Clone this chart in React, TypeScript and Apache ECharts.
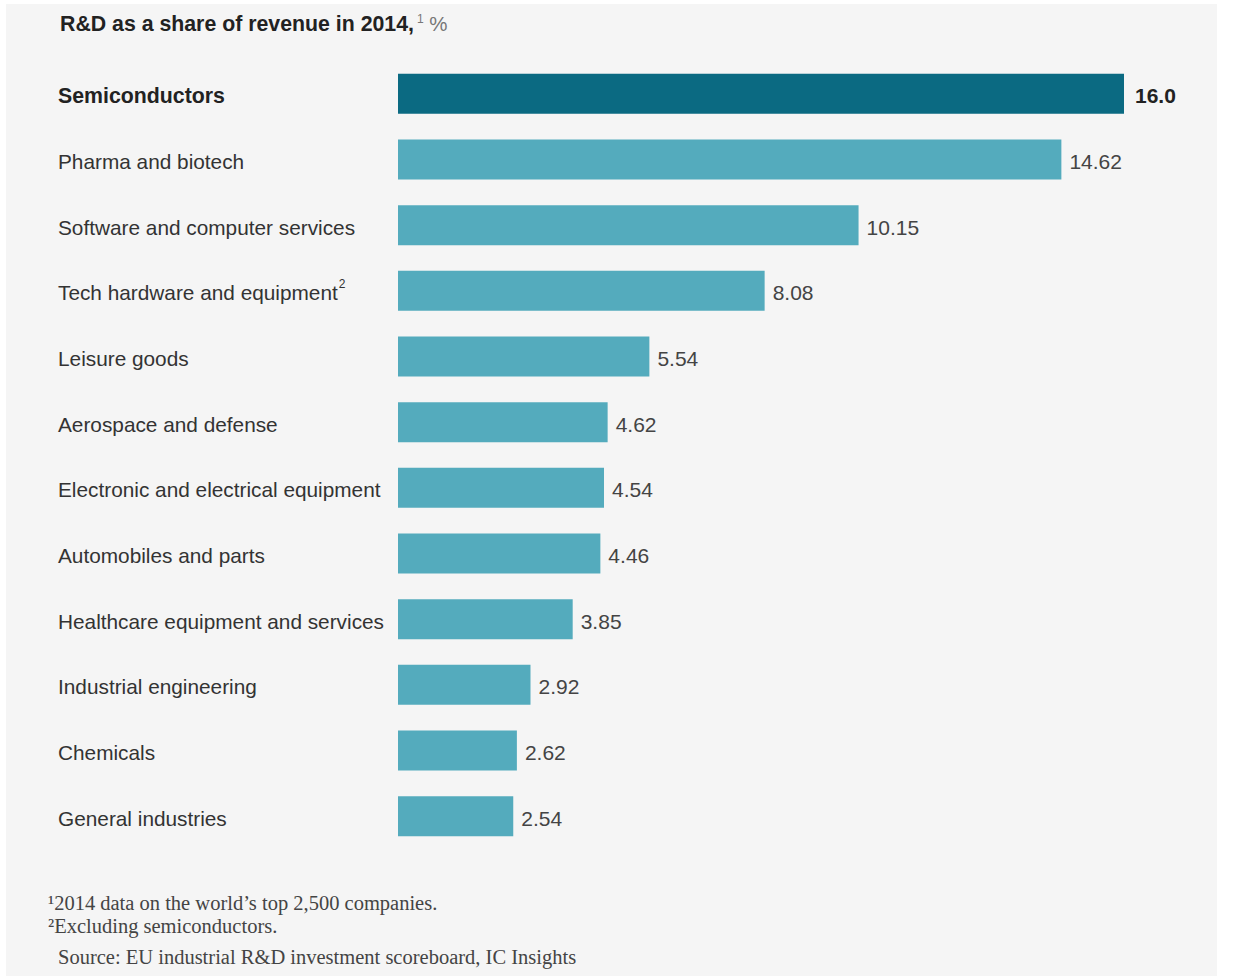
import React, { useEffect, useRef } from "react";
import * as echarts from "echarts";

const categories = [
  "Semiconductors",
  "Pharma and biotech",
  "Software and computer services",
  "Tech hardware and equipment",
  "Leisure goods",
  "Aerospace and defense",
  "Electronic and electrical equipment",
  "Automobiles and parts",
  "Healthcare equipment and services",
  "Industrial engineering",
  "Chemicals",
  "General industries",
];
const values = [16.0, 14.62, 10.15, 8.08, 5.54, 4.62, 4.54, 4.46, 3.85, 2.92, 2.62, 2.54];
const footnotes = [
  "\u00B92014 data on the world\u2019s top 2,500 companies.",
  "\u00B2Excluding semiconductors.",
];
const source = "Source: EU industrial R&D investment scoreboard, IC Insights";

const SANS = "'Liberation Sans', Arial, Helvetica, sans-serif";
const SERIF = "'Liberation Serif', 'DejaVu Serif', Georgia, serif";

export default function App() {
  const ref = useRef<HTMLDivElement>(null);
  useEffect(() => {
    if (!ref.current) return;
    const chart = echarts.init(ref.current, null, { renderer: "svg" });
    chart.setOption({
      animation: false,
      backgroundColor: "#ffffff",
      graphic: [
        { type: "rect", z: -10, shape: { x: 6, y: 4, width: 1211, height: 972 }, style: { fill: "#f5f5f5" } },
        {
          type: "text",
          left: 60,
          top: 13,
          style: {
            text: "{b|R&D as a share of revenue in 2014,}{s|1}{p| %}",
            rich: {
              b: { fontFamily: SANS, fontSize: 21.3, fontWeight: "bold", fill: "#222222" },
              s: { fontFamily: SANS, fontSize: 12, fill: "#777777", verticalAlign: "top", padding: [0, 0, 8, 3] },
              p: { fontFamily: SANS, fontSize: 20.5, fill: "#777777" },
            },
          },
        },
        {
          type: "text",
          left: 48,
          top: 892,
          style: { text: footnotes[0], fontFamily: SERIF, fontSize: 20.5, fill: "#444444" },
        },
        {
          type: "text",
          left: 48,
          top: 915,
          style: { text: footnotes[1], fontFamily: SERIF, fontSize: 20.5, fill: "#444444" },
        },
        {
          type: "text",
          left: 58,
          top: 946,
          style: { text: source, fontFamily: SERIF, fontSize: 20.5, fill: "#444444" },
        },
      ],
      grid: { left: 398, right: 109, top: 61, bottom: 127, containLabel: false },
      xAxis: { type: "value", min: 0, max: 16, show: false },
      yAxis: {
        type: "category",
        data: categories,
        inverse: true,
        axisLine: { show: false },
        axisTick: { show: false },
        splitLine: { show: false },
        axisLabel: {
          align: "left",
          margin: 340,
          fontFamily: SANS,
          fontSize: 20.8,
          color: "#333333",
          formatter: (v: string, i: number) => {
            if (i === 0) return "{bold|" + v + "}";
            if (v === "Tech hardware and equipment") return "{n|" + v + "}{sup|2}";
            return "{n|" + v + "}";
          },
          rich: {
            bold: { fontFamily: SANS, fontSize: 21.3, fontWeight: "bold", color: "#222222", padding: [4, 0, 0, 0] },
            n: { fontFamily: SANS, fontSize: 20.8, color: "#333333", padding: [4, 0, 0, 0] },
            sup: { fontFamily: SANS, fontSize: 12, color: "#333333", verticalAlign: "top", padding: [0, 0, 3, 1] },
          },
        },
      },
      series: [
        {
          type: "bar",
          barWidth: 40,
          data: values.map((v, i) => ({
            value: v,
            itemStyle: { color: i === 0 ? "#0b6a82" : "#54abbd" },
            label: i === 0 ? { fontWeight: "bold", color: "#222222", distance: 11 } : {},
          })),
          label: {
            show: true,
            position: "right",
            distance: 8,
            offset: [0, 2],
            fontFamily: SANS,
            fontSize: 21,
            color: "#444444",
            formatter: (p: any) => (p.dataIndex === 0 ? p.value.toFixed(1) : p.value.toFixed(2)),
          },
        },
      ],
    });
    return () => chart.dispose();
  }, []);
  return (
    <div
      ref={ref}
      style={{ position: "fixed", left: 0, top: 0, width: 1233, height: 976 }}
    />
  );
}
